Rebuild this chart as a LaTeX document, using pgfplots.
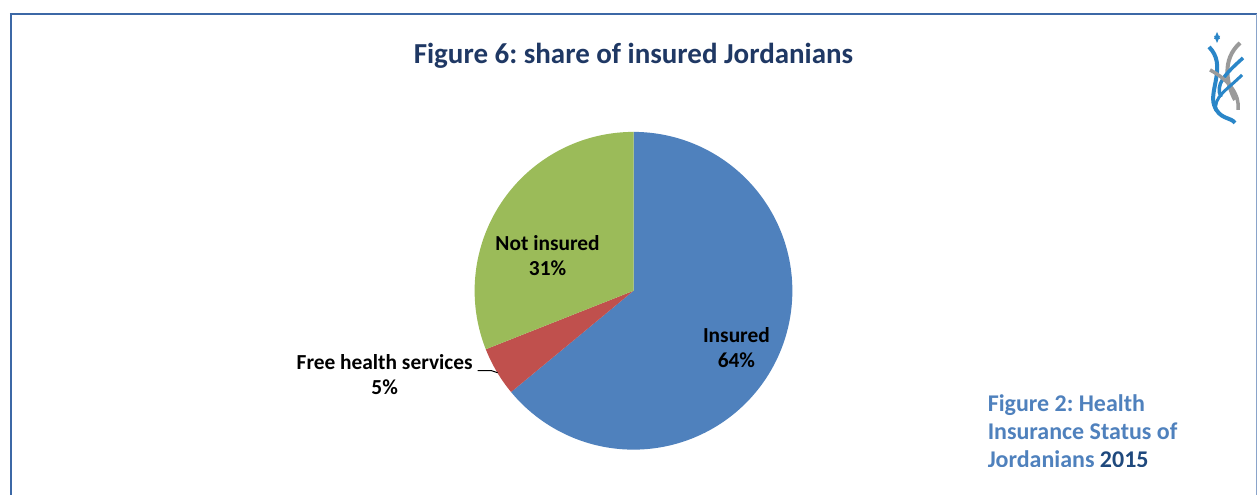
\documentclass[border=0pt]{standalone}
\usepackage{pgfplots}
\pgfplotsset{compat=1.18}
\usepackage{fontspec}
\setmainfont{Carlito}
\frenchspacing
\definecolor{pieblue}{HTML}{4F81BD}
\definecolor{piered}{HTML}{C0504D}
\definecolor{piegreen}{HTML}{9BBB59}
\definecolor{titlecol}{HTML}{1F3864}
\definecolor{framecol}{HTML}{3C68A6}
\definecolor{capblue}{HTML}{4F81BD}
\definecolor{capdark}{HTML}{1F497D}
\definecolor{logoblue}{HTML}{2A86C8}
\definecolor{logogrey}{HTML}{9A9A9A}
% shares in percent
\def\vIns{64}
\def\vFree{5}
\def\vNot{31}
\begin{document}
\begin{tikzpicture}
\begin{axis}[x=1pt, y=1pt, xmin=0, xmax=1258, ymin=0, ymax=495,
  hide axis, clip=false]
\path[fill=white] (axis cs:0,0) rectangle (axis cs:1258,495);
% frame
\draw[framecol, line width=2.5pt] (axis cs:11,0) -- (axis cs:11,481);
\draw[framecol, line width=2pt] (axis cs:10,481) -- (axis cs:1258,481);
\draw[framecol!60, line width=1pt] (axis cs:1257,481) -- (axis cs:1257,0);
% pie
\pgfmathsetmacro{\aA}{90-3.6*\vIns}
\pgfmathsetmacro{\aB}{\aA-3.6*\vFree}
\pgfmathsetmacro{\aC}{\aB-3.6*\vNot}
\addplot[draw=none, fill=pieblue, domain=\aA:90, samples=150, variable=\t]
  ({634+159*cos(\t)},{204+159*sin(\t)}) -- (axis cs:634,204) -- cycle;
\addplot[draw=none, fill=piered, domain=\aB:\aA, samples=20, variable=\t]
  ({634+159*cos(\t)},{204+159*sin(\t)}) -- (axis cs:634,204) -- cycle;
\addplot[draw=none, fill=piegreen, domain=\aC:\aB, samples=100, variable=\t]
  ({634+159*cos(\t)},{204+159*sin(\t)}) -- (axis cs:634,204) -- cycle;
% labels
\node[font=\fontsize{21.4}{25.5}\selectfont\bfseries, align=center] at (axis cs:737,147) {Insured\\64\%};
\node[font=\fontsize{21.4}{25.5}\selectfont\bfseries, align=center] at (axis cs:548,239) {Not insured\\31\%};
\node[font=\fontsize{21.4}{25.5}\selectfont\bfseries, align=center] at (axis cs:385,120) {Free health services\\5\%};
\draw[black, line width=1pt] (axis cs:478,124) -- (axis cs:492,124) -- (axis cs:498,122);
% title
\node[font=\fontsize{29}{33}\selectfont\bfseries, text=titlecol] at (axis cs:634,439) {Figure 6: share of insured Jordanians};
% caption at bottom right (clipped)
\begin{scope}
\clip (axis cs:970,28) rectangle (axis cs:1250,110);
\node[font=\fontsize{24}{28}\selectfont\bfseries, text=capblue, align=left, anchor=north west] at (axis cs:985,104)
  {Figure 2: Health\\Insurance Status of\\Jordanians \textcolor{capdark}{2015}};
\end{scope}
% logo (decorative)
\fill[logoblue] (axis cs:1218,463) -- (axis cs:1221,456) -- (axis cs:1215,456) -- cycle;
\fill[logoblue] (axis cs:1218,452) -- (axis cs:1221,459) -- (axis cs:1215,459) -- cycle;
\draw[logoblue, line width=4pt] (axis cs:1210,448) .. controls (axis cs:1228,430) and (axis cs:1210,405) .. (axis cs:1215,390) .. controls (axis cs:1220,375) and (axis cs:1232,378) .. (axis cs:1236,372);
\draw[logogrey, line width=4pt] (axis cs:1241,452) .. controls (axis cs:1222,435) and (axis cs:1228,410) .. (axis cs:1236,395);
\draw[logoblue, line width=3.5pt] (axis cs:1244,437) .. controls (axis cs:1225,420) and (axis cs:1216,410) .. (axis cs:1222,398);
\draw[logogrey, line width=3.5pt] (axis cs:1211,425) .. controls (axis cs:1230,415) and (axis cs:1241,400) .. (axis cs:1239,385);
\draw[logoblue, line width=3pt] (axis cs:1243,420) .. controls (axis cs:1228,405) and (axis cs:1214,398) .. (axis cs:1217,384);
\end{axis}
\end{tikzpicture}
\end{document}
